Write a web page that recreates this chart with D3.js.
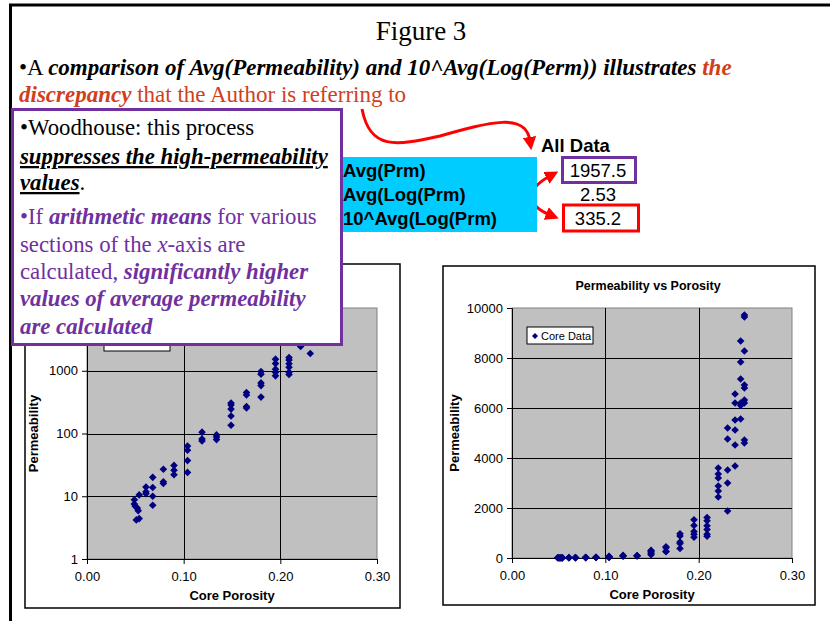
<!DOCTYPE html>
<html>
<head>
<meta charset="utf-8">
<title>Figure 3</title>
<script src="https://d3js.org/d3.v7.min.js"></script>
<style>
  body { margin: 0; background: #fff; }
  svg { display: block; }
</style>
</head>
<body>
<div id="chart"></div>
<script>
// core data: porosity (fraction) and permeability (md)
var porosity = [
  0.049, 0.049, 0.050, 0.052, 0.053, 0.051, 0.054, 0.054,
  0.061, 0.061, 0.061,
  0.068, 0.068, 0.068, 0.068,
  0.079, 0.079, 0.079,
  0.090, 0.090, 0.090,
  0.104, 0.104, 0.104, 0.104,
  0.119, 0.119, 0.119,
  0.134, 0.134, 0.134,
  0.149, 0.149, 0.149, 0.149, 0.149,
  0.165, 0.165, 0.165, 0.165,
  0.180, 0.180, 0.180, 0.180, 0.180,
  0.195, 0.195, 0.195, 0.195, 0.195,
  0.209, 0.209, 0.209, 0.209, 0.209, 0.209,
  0.221, 0.221, 0.221, 0.221, 0.221, 0.221,
  0.231, 0.231, 0.231, 0.231, 0.231,
  0.239, 0.239, 0.239, 0.239, 0.239, 0.239,
  0.245, 0.245, 0.245, 0.245, 0.245, 0.245,
  0.249, 0.249, 0.249, 0.249, 0.249, 0.249, 0.249, 0.249, 0.249
];
var permeability = [
  8.8, 7.5, 6.9, 6.5, 5.9, 4.2, 4.4, 10.5,
  14, 11.8, 11,
  20, 13.8, 10, 7.2,
  27, 17, 16,
  31, 26, 22,
  63, 54, 37, 24,
  105, 82, 76,
  95, 88, 80,
  305, 285, 245, 190, 135,
  450, 410, 270, 255,
  970, 880, 640, 580, 380,
  1530, 1300, 1060, 950, 830,
  1620, 1490, 1290, 1140, 950, 870,
  3600, 3360, 3200, 2880, 2680, 2440,
  5200, 4760, 3520, 3000, 1880,
  6560, 6200, 5520, 5120, 4520, 3680,
  8680, 7840, 7160, 6200, 6100, 5560,
  9720, 9640, 8280, 6920, 6800, 6320, 6200, 4720, 4600
];

var xTicks = [0, 0.1, 0.2, 0.3];
var logTicks = [1, 10, 100, 1000, 10000];
var linTicks = [0, 2000, 4000, 6000, 8000, 10000];

var tableLabels = ["Avg(Prm)", "Avg(Log(Prm)", "10^Avg(Log(Prm)"];
var tableValues = ["1957.5", "2.53", "335.2"];

var points = porosity.map(function(p, i){ return {x: p, y: permeability[i]}; });

var W = 830, H = 621;
var serif = "'Liberation Serif', 'Times New Roman', serif";
var sans  = "'Liberation Sans', Arial, sans-serif";
var purple = "#7030A0", orange = "#D0401A", navy = "#000080";

var svg = d3.select("#chart").append("svg")
    .attr("width", W).attr("height", H);

// slide frame
svg.append("path")
    .attr("d", "M10.5," + H + " V5 H" + W)
    .attr("fill", "none").attr("stroke", "#000").attr("stroke-width", 3);

var defs = svg.append("defs");
defs.append("marker")
    .attr("id", "head")
    .attr("viewBox", "0 0 10 10")
    .attr("refX", 3).attr("refY", 5)
    .attr("markerWidth", 4.5).attr("markerHeight", 4.5)
    .attr("orient", "auto-start-reverse")
  .append("path")
    .attr("d", "M0,0 L10,5 L0,10 z")
    .attr("fill", "#FF0000");

function diamond(r){ return "M0," + (-r) + "L" + r + ",0L0," + r + "L" + (-r) + ",0Z"; }

// one scatter chart
function scatter(opt){
  var g = svg.append("g");
  g.append("rect")
      .attr("x", opt.frame[0]).attr("y", opt.frame[1])
      .attr("width", opt.frame[2]).attr("height", opt.frame[3])
      .attr("fill", "#fff").attr("stroke", "#000").attr("stroke-width", 1.5);

  var x = d3.scaleLinear().domain([0, 0.3]).range([opt.left, opt.right]);
  var y = opt.yScale.range([opt.bottom, opt.top]);

  g.append("rect")
      .attr("x", opt.left).attr("y", opt.top)
      .attr("width", opt.right - opt.left).attr("height", opt.bottom - opt.top)
      .attr("fill", "#C0C0C0").attr("stroke", "#808080");

  // grid
  g.selectAll(".hg").data(opt.yTicks.slice(1, -1)).enter().append("line")
      .attr("x1", opt.left).attr("x2", opt.right)
      .attr("y1", function(d){ return Math.round(y(d)) + 0.5; })
      .attr("y2", function(d){ return Math.round(y(d)) + 0.5; })
      .attr("stroke", "#000");
  g.selectAll(".vg").data(xTicks.slice(1, -1)).enter().append("line")
      .attr("y1", opt.top).attr("y2", opt.bottom)
      .attr("x1", function(d){ return Math.round(x(d)) + 0.5; })
      .attr("x2", function(d){ return Math.round(x(d)) + 0.5; })
      .attr("stroke", "#000");

  var xa = g.append("g")
      .attr("transform", "translate(0," + opt.bottom + ")")
      .call(d3.axisBottom(x).tickValues(xTicks).tickFormat(d3.format(".2f")).tickSize(5).tickPadding(8));
  var ya = g.append("g")
      .attr("transform", "translate(" + opt.left + ",0)")
      .call(d3.axisLeft(y).tickValues(opt.yLabelTicks).tickFormat(d3.format("d")).tickSize(5).tickPadding(4));
  [xa, ya].forEach(function(a){
    a.select(".domain").attr("stroke", "#000");
    a.selectAll("line").attr("stroke", "#000");
    a.selectAll("text").attr("font-family", sans).attr("font-size", 13).attr("fill", "#000");
  });

  g.append("g").selectAll("path").data(points).enter().append("path")
      .attr("d", diamond(3.8))
      .attr("transform", function(d){ return "translate(" + x(d.x) + "," + y(d.y) + ")"; })
      .attr("fill", navy);

  g.append("text")
      .attr("x", (opt.left + opt.right) / 2).attr("y", opt.bottom + 41)
      .attr("text-anchor", "middle")
      .attr("font-family", sans).attr("font-size", 13).attr("font-weight", "bold")
      .text("Core Porosity");
  g.append("text")
      .attr("transform", "translate(" + opt.ylabX + "," + ((opt.top + opt.bottom) / 2) + ") rotate(-90)")
      .attr("text-anchor", "middle")
      .attr("font-family", sans).attr("font-size", 13).attr("font-weight", "bold")
      .text("Permeability");

  // legend box
  var lg = g.append("g").attr("transform", "translate(" + opt.legend[0] + "," + opt.legend[1] + ")");
  lg.append("rect").attr("width", 66).attr("height", opt.legend[2])
      .attr("fill", "#fff").attr("stroke", "#000");

  // title and legend entry (the left chart's are covered by the callout)
  if (opt.covered) return;
  g.append("text")
      .attr("x", (opt.left + opt.right) / 2 - 4).attr("y", opt.top - 18)
      .attr("text-anchor", "middle")
      .attr("font-family", sans).attr("font-size", 12.5).attr("font-weight", "bold")
      .text("Permeability vs Porosity");
  lg.append("path").attr("d", diamond(3)).attr("transform", "translate(8,9)").attr("fill", navy);
  lg.append("text").attr("x", 14).attr("y", 13)
      .attr("font-family", sans).attr("font-size", 11).text("Core Data");
}

scatter({
  frame: [25, 264, 375, 344],
  left: 87, right: 377, top: 308, bottom: 559,
  yScale: d3.scaleLog().domain([1, 10000]),
  yTicks: logTicks, yLabelTicks: logTicks.slice(0, -1),
  ylabX: 38, legend: [104, 330, 21], covered: true
});
scatter({
  frame: [443, 266, 372, 339],
  left: 512, right: 792, top: 308, bottom: 558,
  yScale: d3.scaleLinear().domain([0, 10000]),
  yTicks: linTicks, yLabelTicks: linTicks,
  ylabX: 459, legend: [527, 327, 17]
});

// header text
svg.append("text")
    .attr("x", 421).attr("y", 40).attr("text-anchor", "middle")
    .attr("font-family", serif).attr("font-size", 27)
    .text("Figure 3");

var l1 = svg.append("text").attr("x", 19).attr("y", 75)
    .attr("font-family", serif).attr("font-size", 23);
l1.append("tspan").text("•A ");
l1.append("tspan").attr("font-weight", "bold").attr("font-style", "italic")
    .text("comparison of Avg(Permeability) and 10^Avg(Log(Perm)) illustrates ");
l1.append("tspan").attr("font-weight", "bold").attr("font-style", "italic").attr("fill", orange)
    .text("the");
var l2 = svg.append("text").attr("x", 19).attr("y", 102)
    .attr("font-family", serif).attr("font-size", 23).attr("fill", orange);
l2.append("tspan").attr("font-weight", "bold").attr("font-style", "italic").text("discrepancy");
l2.append("tspan").text(" that the Author is referring to");

// arrows
svg.append("path")
    .attr("d", "M362,109 C370,150 395,146 440,136 C490,122 526,112 530,141")
    .attr("fill", "none").attr("stroke", "#FF0000").attr("stroke-width", 3)
    .attr("marker-end", "url(#head)");
svg.append("path")
    .attr("d", "M550,176 C524,190 528,206 550,215")
    .attr("fill", "none").attr("stroke", "#FF0000").attr("stroke-width", 3)
    .attr("marker-start", "url(#head)").attr("marker-end", "url(#head)");

// table
svg.append("rect").attr("x", 342).attr("y", 157).attr("width", 195).attr("height", 75)
    .attr("fill", "#00CCFF");
svg.append("text").attr("x", 541).attr("y", 152)
    .attr("font-family", sans).attr("font-size", 18.5).attr("font-weight", "bold")
    .text("All Data");
svg.selectAll(".tl").data(tableLabels).enter().append("text")
    .attr("x", 343).attr("y", function(d, i){ return 177 + i * 24; })
    .attr("font-family", sans).attr("font-size", 18.5).attr("font-weight", "bold")
    .text(function(d){ return d; });
svg.append("rect").attr("x", 562.5).attr("y", 157.5).attr("width", 73).attr("height", 25)
    .attr("fill", "#fff").attr("stroke", purple).attr("stroke-width", 3);
svg.append("rect").attr("x", 563.5).attr("y", 205).attr("width", 75).attr("height", 26)
    .attr("fill", "#fff").attr("stroke", "#FF0000").attr("stroke-width", 3);
svg.selectAll(".tv").data(tableValues).enter().append("text")
    .attr("x", 598).attr("y", function(d, i){ return 177 + i * 24; })
    .attr("text-anchor", "middle")
    .attr("font-family", sans).attr("font-size", 18.5)
    .text(function(d){ return d; });

// purple callout
svg.append("rect").attr("x", 12.5).attr("y", 109.5).attr("width", 329).attr("height", 235)
    .attr("fill", "#fff").attr("stroke", purple).attr("stroke-width", 3);

var lines = [
  [["•Woodhouse: this process", ""]],
  [["suppresses the high-permeability", "biu"]],
  [["values", "biu"], [".", ""]],
  [["•If ", "p"], ["arithmetic means", "pbi"], [" for various", "p"]],
  [["sections of the ", "p"], ["x", "pi"], ["-axis are", "p"]],
  [["calculated, ", "p"], ["significantly higher", "pbi"]],
  [["values of average permeability", "pbi"]],
  [["are calculated", "pbi"]]
];
var baselines = [135, 164, 190, 224, 252, 279, 306, 334];
lines.forEach(function(parts, i){
  var t = svg.append("text").attr("x", 20).attr("y", baselines[i])
      .attr("font-family", serif).attr("font-size", 22.8);
  parts.forEach(function(p){
    var s = t.append("tspan").text(p[0]);
    if (p[1].indexOf("b") >= 0) s.attr("font-weight", "bold");
    if (p[1].indexOf("i") >= 0) s.attr("font-style", "italic");
    if (p[1].indexOf("u") >= 0) s.attr("text-decoration", "underline");
    s.attr("fill", p[1].indexOf("p") >= 0 ? purple : "#000");
  });
});
</script>
</body>
</html>
